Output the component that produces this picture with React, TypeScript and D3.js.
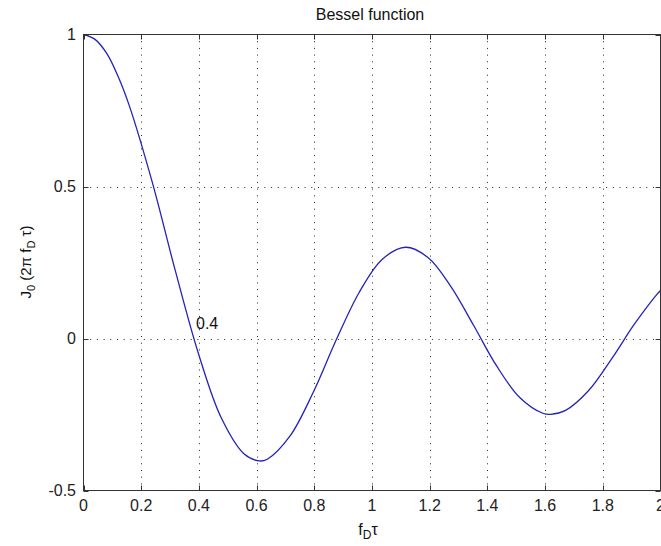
import React, { useRef, useEffect } from 'react';
import * as d3 from 'd3';

// f_D * tau values and the J0 curve
const fdTau = [0, 0.04, 0.08, 0.12, 0.159, 0.239, 0.318, 0.398, 0.477, 0.557, 0.61, 0.637, 0.716, 0.796, 0.875, 0.955, 1.035, 1.117, 1.194, 1.273, 1.353, 1.432, 1.512, 1.592, 1.62, 1.671, 1.751, 1.83, 1.91, 1.989, 2.0];
const j0 = [1, 0.984, 0.9385, 0.862, 0.7652, 0.5118, 0.2239, -0.0484, -0.2601, -0.3801, -0.4028, -0.3971, -0.3205, -0.1776, -0.0068, 0.1506, 0.2601, 0.3001, 0.2663, 0.1717, 0.0419, -0.0903, -0.1939, -0.2459, -0.2497, -0.2366, -0.1712, -0.0677, 0.0477, 0.1469, 0.158];

const xTicks = [0, 0.2, 0.4, 0.6, 0.8, 1, 1.2, 1.4, 1.6, 1.8, 2];
const yTicks = [-0.5, 0, 0.5, 1];
const note = { x: 0.39, y: 0.03, text: '0.4' };

function App() {
  const svgRef = useRef(null);

  useEffect(() => {
    const svg = d3.select(svgRef.current);
    svg.selectAll('*').remove();

    const width = 661;
    const height = 546;
    const left = 83.5, right = 660.5, top = 34.5, bottom = 490.5;
    const font = 'Arial, "Liberation Sans", sans-serif';

    svg.attr('width', width).attr('height', height);
    svg.append('rect').attr('width', width).attr('height', height).attr('fill', 'white');

    const x = d3.scaleLinear().domain([0, 2]).range([left, right]);
    const y = d3.scaleLinear().domain([-0.5, 1]).range([bottom, top]);

    // dotted grid
    const grid = svg.append('g')
      .attr('stroke', '#222')
      .attr('stroke-width', 1)
      .attr('stroke-dasharray', '1,5.7');
    grid.selectAll('.gx')
      .data(xTicks.slice(1, -1))
      .enter()
      .append('line')
      .attr('x1', d => Math.round(x(d)) + 0.5)
      .attr('x2', d => Math.round(x(d)) + 0.5)
      .attr('y1', top)
      .attr('y2', bottom);
    grid.selectAll('.gy')
      .data(yTicks.slice(1, -1))
      .enter()
      .append('line')
      .attr('y1', d => Math.round(y(d)) + 0.5)
      .attr('y2', d => Math.round(y(d)) + 0.5)
      .attr('x1', left)
      .attr('x2', right);

    // curve
    const pts = fdTau.map((f, i) => [f, j0[i]]);
    const line = d3.line()
      .x(d => x(d[0]))
      .y(d => y(d[1]))
      .curve(d3.curveCatmullRom);
    svg.append('path')
      .datum(pts)
      .attr('d', line)
      .attr('fill', 'none')
      .attr('stroke', '#2323b8')
      .attr('stroke-width', 1.3);

    // box
    svg.append('rect')
      .attr('x', left)
      .attr('y', top)
      .attr('width', right - left)
      .attr('height', bottom - top)
      .attr('fill', 'none')
      .attr('stroke', '#333')
      .attr('stroke-width', 1);

    // inner ticks
    const tl = 5;
    const ticks = svg.append('g').attr('stroke', '#333').attr('stroke-width', 1);
    xTicks.forEach(t => {
      const px = Math.round(x(t)) + 0.5;
      ticks.append('line').attr('x1', px).attr('x2', px).attr('y1', bottom).attr('y2', bottom - tl);
      ticks.append('line').attr('x1', px).attr('x2', px).attr('y1', top).attr('y2', top + tl);
    });
    yTicks.forEach(t => {
      const py = Math.round(y(t)) + 0.5;
      ticks.append('line').attr('x1', left).attr('x2', left + tl).attr('y1', py).attr('y2', py);
      ticks.append('line').attr('x1', right).attr('x2', right - tl).attr('y1', py).attr('y2', py);
    });

    // tick labels
    svg.selectAll('.xl')
      .data(xTicks)
      .enter()
      .append('text')
      .attr('x', d => x(d))
      .attr('y', 511)
      .attr('text-anchor', 'middle')
      .style('font-family', font)
      .style('font-size', '16px')
      .attr('fill', '#222')
      .text(d => String(d));

    svg.selectAll('.yl')
      .data(yTicks)
      .enter()
      .append('text')
      .attr('x', 76)
      .attr('y', d => y(d) + 5.5)
      .attr('text-anchor', 'end')
      .style('font-family', font)
      .style('font-size', '16px')
      .attr('fill', '#222')
      .text(d => String(d));

    // title
    svg.append('text')
      .attr('x', 370)
      .attr('y', 20)
      .attr('text-anchor', 'middle')
      .style('font-family', font)
      .style('font-size', '16px')
      .attr('fill', '#111')
      .text('Bessel function');

    // x label
    const xl = svg.append('text')
      .attr('x', 368)
      .attr('y', 535)
      .attr('text-anchor', 'middle')
      .style('font-family', font)
      .style('font-size', '16px')
      .attr('fill', '#111');
    xl.append('tspan').text('f');
    xl.append('tspan').attr('dy', 4).style('font-size', '12px').text('D');
    xl.append('tspan').attr('dy', -4).text('τ');

    // y label
    const yl = svg.append('text')
      .attr('transform', 'translate(31, 262) rotate(-90)')
      .attr('text-anchor', 'middle')
      .style('font-family', font)
      .style('font-size', '15px')
      .attr('fill', '#111');
    yl.append('tspan').text('J');
    yl.append('tspan').attr('dy', 4).style('font-size', '11px').text('0');
    yl.append('tspan').attr('dy', -4).text(' (2π f');
    yl.append('tspan').attr('dy', 4).style('font-size', '11px').text('D');
    yl.append('tspan').attr('dy', -4).text(' τ)');

    // annotation
    svg.append('text')
      .attr('x', x(note.x))
      .attr('y', y(note.y))
      .style('font-family', font)
      .style('font-size', '16px')
      .attr('fill', '#111')
      .text(note.text);
  }, []);

  return (
    <svg ref={svgRef} style={{ position: 'absolute', left: 0, top: 0 }}></svg>
  );
}

export default App;
